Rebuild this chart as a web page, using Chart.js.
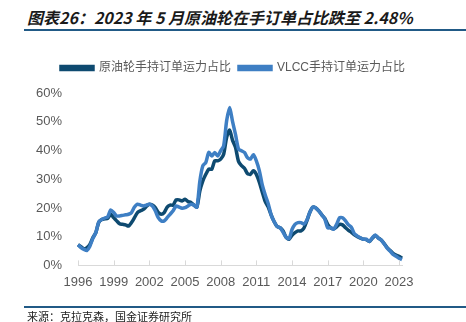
<!DOCTYPE html>
<html>
<head>
<meta charset="utf-8">
<script src="https://cdn.jsdelivr.net/npm/chart.js@4.4.0/dist/chart.umd.min.js"></script>
<style>
    body { margin: 0; background: #fff; }
    #wrap { position: relative; width: 466px; height: 322px; overflow: hidden; }
    #title {
        position: absolute; left: 27px; top: 5px;
        font: italic bold 16px "Noto Sans CJK SC", sans-serif;
        color: #1a1a1a; white-space: nowrap;
    }
    .rule { position: absolute; left: 24px; right: 0; height: 2px; background: #215a86; }
    #foot {
        position: absolute; left: 27px; top: 308px;
        font: 11px "Noto Sans CJK SC", sans-serif; color: #222; white-space: nowrap;
    }
    canvas { position: absolute; left: 0; top: 0; }
</style>
</head>
<body>
<div id="wrap">
    <div id="title">图表26：2023 年 5 月原油轮在手订单占比跌至 2.48%</div>
    <div class="rule" style="top:29px"></div>
    <canvas id="combinedChart" width="466" height="322"></canvas>
    <div class="rule" style="top:306px"></div>
    <div id="foot">来源：克拉克森，国金证券研究所</div>
</div>
<script>
// quarterly labels, 1996Q1 .. 2023Q2
var arrQuarters = [];
for (var y = 1996; y <= 2023; y++) {
    for (var q = 1; q <= 4; q++) {
        if (y == 2023 && q > 2) break;
        arrQuarters.push(y + 'Q' + q);
    }
}

// 原油轮手持订单运力占比 (%)
var arrCrude = [
    7.2, 6.5, 5.8, 6.2,
    7.3, 9.6, 11.4, 15.0,
    16.0, 16.2, 16.4, 17.8,
    16.6, 15.5, 14.5, 14.3,
    14.1, 13.7, 14.9, 16.6,
    18.4, 19.0, 19.5, 20.5,
    21.3, 21.0, 20.1, 18.4,
    17.8, 18.4, 20.3, 21.0,
    21.0, 22.8, 22.8, 22.4,
    23.0, 22.2, 21.9, 21.0,
    20.3, 25.9, 29.4, 31.7,
    33.5, 33.5, 36.4, 36.4,
    37.0, 38.7, 44.5, 47.1,
    43.5, 41.0, 36.2, 34.7,
    33.8, 32.0, 31.7, 32.9,
    31.7, 29.0, 25.5, 22.2,
    20.3, 17.5, 15.2, 13.5,
    13.1, 12.0, 9.8, 9.1,
    10.5, 11.4, 12.0, 12.0,
    13.0, 15.5, 18.5, 20.3,
    20.0, 19.0, 17.6, 16.4,
    14.3, 13.1, 12.8, 13.4,
    14.3, 14.1, 13.1, 12.2,
    11.5, 10.6, 10.0, 9.5,
    9.1, 9.0, 8.3, 9.4,
    10.4, 9.6, 8.8, 7.6,
    6.2, 5.2, 4.2, 3.6,
    3.2, 2.48
];

// VLCC手持订单运力占比 (%)
var arrVlcc = [
    7.2, 6.2, 5.6, 5.2,
    6.7, 9.4, 11.4, 15.2,
    16.0, 16.5, 16.9, 19.3,
    18.4, 17.2, 17.2, 17.4,
    17.6, 17.8, 18.4, 20.3,
    21.3, 21.0, 20.7, 21.0,
    21.3, 20.7, 19.0, 16.6,
    15.5, 15.5, 16.6, 17.8,
    19.0, 20.7, 20.3, 19.9,
    20.1, 20.7, 21.3, 21.0,
    20.3, 29.4, 34.7, 35.8,
    39.3, 38.1, 39.3, 38.1,
    39.9, 41.6, 50.3, 55.0,
    50.0, 45.5, 40.5, 39.9,
    39.3, 37.5, 37.0, 38.5,
    36.4, 33.0, 28.0, 24.5,
    21.5, 17.5, 15.2, 13.5,
    13.1, 11.5, 9.8, 9.3,
    12.5, 14.3, 14.9, 14.9,
    14.4, 15.8, 18.5, 20.3,
    20.0, 19.0, 17.6, 16.2,
    13.1, 13.1, 12.6, 14.3,
    16.6, 16.6, 15.5, 14.1,
    13.2, 11.0, 10.2, 9.6,
    9.1, 9.1, 8.3, 9.6,
    10.6, 9.5, 8.8, 7.5,
    6.0, 5.0, 3.8, 3.2,
    2.5, 2.0
];

var arrYTicks = [0, 10, 20, 30, 40, 50, 60];

function isYearTick(i) {
    var lb = arrQuarters[i];
    if (!lb || lb.slice(-2) != 'Q1') return false;
    return (parseInt(lb) - 1996) % 3 == 0;
}

// short marks rising from the x axis at each labelled year
var upTicks = {
    id: 'upTicks',
    afterDatasetsDraw: function (chart) {
        var xs = chart.scales.x, ctx = chart.ctx;
        var yb = chart.chartArea.bottom;
        ctx.save();
        ctx.strokeStyle = '#d9d9d9';
        ctx.lineWidth = 1;
        xs.ticks.forEach(function (t, i) {
            if (!isYearTick(t.value)) return;
            var px = Math.round(xs.getPixelForTick(i)) + 0.5;
            ctx.beginPath();
            ctx.moveTo(px, yb);
            ctx.lineTo(px, yb - 5);
            ctx.stroke();
        });
        ctx.restore();
    }
};

// a bit more room between the legend and the plot
var legendGap = {
    id: 'legendGap',
    beforeInit: function (chart) {
        var fit = chart.legend.fit;
        chart.legend.fit = function () {
            fit.bind(chart.legend)();
            this.height += 9;
        };
    }
};

var fontFam = '"Liberation Sans", "Noto Sans CJK SC", sans-serif';

var data = {
    labels: arrQuarters,
    datasets: [
        {
            label: '原油轮手持订单运力占比',
            data: arrCrude,
            borderColor: '#0e4a70',
            backgroundColor: '#0e4a70',
            borderWidth: 3.5,
            pointRadius: 0,
            tension: 0.25,
            order: 1
        },
        {
            label: 'VLCC手持订单运力占比',
            data: arrVlcc,
            borderColor: '#3e7fc4',
            backgroundColor: '#3e7fc4',
            borderWidth: 3.5,
            pointRadius: 0,
            tension: 0.25,
            order: 0
        }
    ]
};

var options = {
    responsive: false,
    animation: false,
    layout: { padding: { top: 54, left: 0, right: 0, bottom: 23 } },
    plugins: {
        legend: {
            position: 'top',
            labels: {
                boxWidth: 32,
                boxHeight: 3,
                padding: 8,
                color: '#595959',
                font: { size: 12, family: fontFam },
                sort: function (a, b) { return a.datasetIndex - b.datasetIndex; }
            }
        },
        tooltip: { enabled: false }
    },
    scales: {
        x: {
            offset: false,
            grid: { display: false, drawTicks: false },
            border: { display: true, color: '#d9d9d9', width: 1 },
            ticks: {
                autoSkip: false,
                maxRotation: 0,
                padding: 9,
                color: '#595959',
                font: { size: 13, family: fontFam },
                callback: function (val, i) {
                    return isYearTick(i) ? arrQuarters[i].slice(0, 4) : '';
                }
            }
        },
        y: {
            min: 0,
            max: 60,
            afterFit: function (axis) { axis.width = 78; },
            afterBuildTicks: function (axis) {
                axis.ticks = arrYTicks.map(function (v) { return { value: v }; });
            },
            grid: { display: false },
            border: { display: false },
            ticks: {
                padding: 8,
                color: '#595959',
                font: { size: 13, family: fontFam },
                callback: function (v) { return v + '%'; }
            }
        },
        // empty right-hand axis, only reserves the margin
        yRight: {
            position: 'right',
            min: 0,
            max: 60,
            afterFit: function (axis) { axis.width = 64; },
            grid: { display: false },
            border: { display: false },
            ticks: { display: false }
        }
    }
};

var ctx = document.getElementById('combinedChart').getContext('2d');
var combinedChart = new Chart(ctx, {
    type: 'line',
    data: data,
    options: options,
    plugins: [upTicks, legendGap]
});
</script>
</body>
</html>
